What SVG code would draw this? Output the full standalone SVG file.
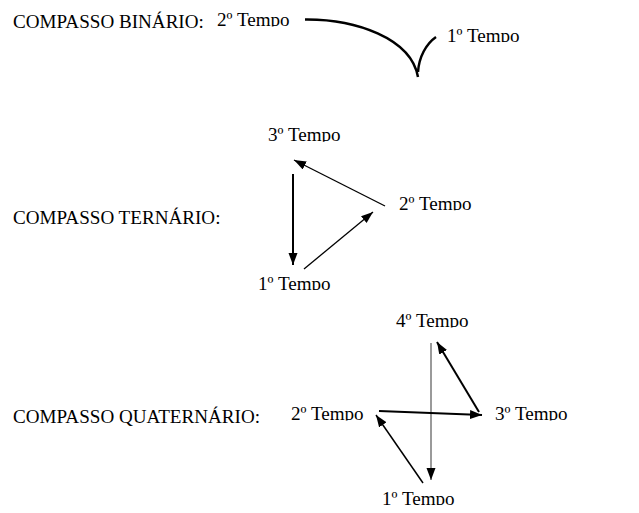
<svg xmlns="http://www.w3.org/2000/svg" width="639" height="513" viewBox="0 0 639 513">
<style>
text{font-family:"Liberation Serif","Times New Roman",serif;font-size:19.1px;fill:#000}
.ln{stroke:#000;fill:none}
.gr{stroke:#9a9a9a;fill:none}
</style>
<defs>
<marker id="ah" markerUnits="userSpaceOnUse" markerWidth="13" markerHeight="10" refX="12" refY="4.5" orient="auto">
<path d="M0,0 L12,4.5 L0,9 z" fill="#000"/>
</marker>
<clipPath id="c1"><rect x="200" y="0" width="100" height="26.5"/></clipPath>
<clipPath id="c2"><rect x="440" y="20" width="100" height="22"/></clipPath>
<clipPath id="c3"><rect x="260" y="120" width="100" height="21.8"/></clipPath>
<clipPath id="c4"><rect x="390" y="185" width="100" height="25.2"/></clipPath>
<clipPath id="c5"><rect x="250" y="265" width="100" height="25"/></clipPath>
<clipPath id="c6"><rect x="390" y="305" width="100" height="22.5"/></clipPath>
<clipPath id="c7"><rect x="280" y="395" width="100" height="25.5"/></clipPath>
<clipPath id="c8"><rect x="485" y="395" width="100" height="25.5"/></clipPath>
<clipPath id="c9"><rect x="375" y="480" width="100" height="25"/></clipPath>
</defs>

<g id="binario">
<text x="13" y="28.3">COMPASSO BINÁRIO:</text>
<g id="bin-t2" clip-path="url(#c1)"><text x="217" y="26">2º Tempo</text></g>
<g id="bin-t1" clip-path="url(#c2)"><text x="447" y="41.5">1º Tempo</text></g>
</g>

<g id="ternario">
<text x="13" y="224.3">COMPASSO TERNÁRIO:</text>
<g id="ter-t3" clip-path="url(#c3)"><text x="268" y="141.3">3º Tempo</text></g>
<g id="ter-t2" clip-path="url(#c4)"><text x="399" y="209.7">2º Tempo</text></g>
<g id="ter-t1" clip-path="url(#c5)"><text x="258" y="289.5">1º Tempo</text></g>
</g>

<g id="quaternario">
<text x="13" y="423">COMPASSO QUATERNÁRIO:</text>
<g id="qua-t4" clip-path="url(#c6)"><text x="396" y="327">4º Tempo</text></g>
<g id="qua-t2" clip-path="url(#c7)"><text x="291" y="420">2º Tempo</text></g>
<g id="qua-t3" clip-path="url(#c8)"><text x="495" y="420">3º Tempo</text></g>
<g id="qua-t1" clip-path="url(#c9)"><text x="382" y="504.5">1º Tempo</text></g>
</g>

<g id="connectors">
<path class="ln" stroke-width="2.5" d="M305,19.5 C355,19 411,38 418,77"/>
<path class="ln" stroke-width="2.5" d="M418,72 C419,57 426,44 436,37"/>

<line class="ln" stroke-width="1.3" x1="385" y1="206" x2="294" y2="160" marker-end="url(#ah)"/>
<line class="ln" stroke-width="2" x1="293" y1="174" x2="293" y2="265" marker-end="url(#ah)"/>
<line class="ln" stroke-width="1.3" x1="304" y1="269" x2="373" y2="212" marker-end="url(#ah)"/>

<line class="gr" stroke-width="2" x1="431" y1="343" x2="431" y2="480" marker-end="url(#ah)"/>
<line class="ln" stroke-width="2" x1="479" y1="412" x2="437" y2="342" marker-end="url(#ah)"/>
<line class="ln" stroke-width="2" x1="379" y1="411" x2="482" y2="415" marker-end="url(#ah)"/>
<line class="ln" stroke-width="1.5" x1="423" y1="483" x2="376" y2="415" marker-end="url(#ah)"/>
</g>
</svg>
